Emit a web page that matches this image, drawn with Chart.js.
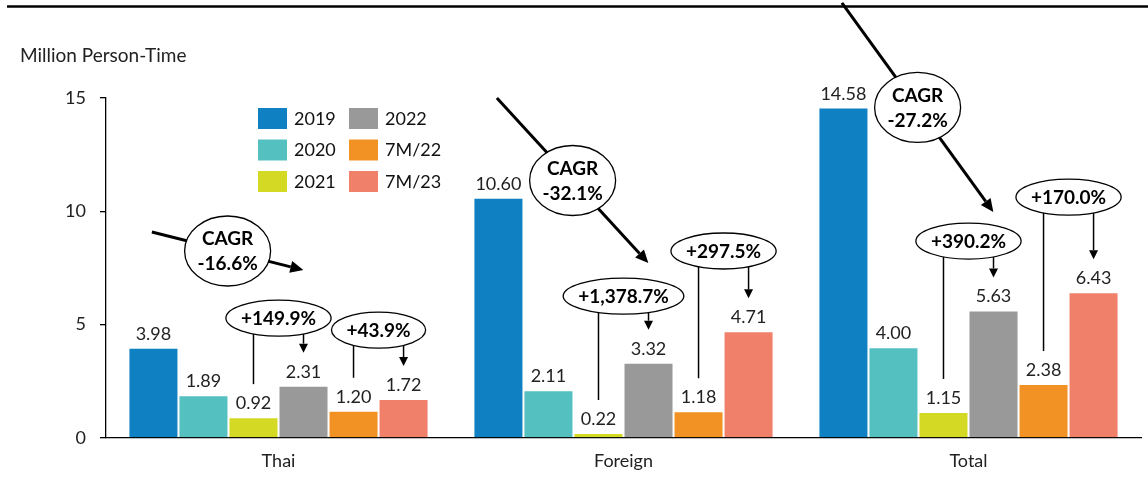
<!DOCTYPE html>
<html>
<head>
<meta charset="utf-8">
<script src="https://cdn.jsdelivr.net/npm/chart.js@4.4.0/dist/chart.umd.min.js"></script>
<style>
  html, body { margin: 0; padding: 0; background: #fff; }
</style>
</head>
<body>
<canvas id="touristChart" width="1148" height="479"></canvas>
<script>
  const categories = ['Thai', 'Foreign', 'Total'];
  const seriesNames = ['2019', '2020', '2021', '2022', '7M/22', '7M/23'];
  const values2019 = [3.98, 10.60, 14.58];
  const values2020 = [1.89, 2.11, 4.00];
  const values2021 = [0.92, 0.22, 1.15];
  const values2022 = [2.31, 3.32, 5.63];
  const values7M22 = [1.20, 1.18, 2.38];
  const values7M23 = [1.72, 4.71, 6.43];
  const cagrText = ['-16.6%', '-32.1%', '-27.2%'];
  const growth2022Text = ['+149.9%', '+1,378.7%', '+390.2%'];
  const growth7MText = ['+43.9%', '+297.5%', '+170.0%'];
  const yTicks = [0, 5, 10, 15];

  const colors = ['#0F80C1', '#55C0C0', '#D4DA24', '#999999', '#F39224', '#F1806B'];
  const FONT = 'Lato, sans-serif';

  // where the callouts sit, in axis units
  const callout2022Y = [5.29, 6.26, 8.69];
  const callout7MY = [4.76, 8.25, 10.63];
  const cagrStartY = [9.09, 15.0, 19.2];
  const cagrEndY = [7.41, 7.72, 9.97];

  function arrowLine(ctx, x1, y1, x2, y2, len, half) {
    const a = Math.atan2(y2 - y1, x2 - x1);
    const bx = x2 - len * Math.cos(a), by = y2 - len * Math.sin(a);
    ctx.beginPath();
    ctx.moveTo(x1, y1);
    ctx.lineTo(bx, by);
    ctx.stroke();
    ctx.beginPath();
    ctx.moveTo(x2, y2);
    ctx.lineTo(bx + half * Math.sin(a), by - half * Math.cos(a));
    ctx.lineTo(bx - half * Math.sin(a), by + half * Math.cos(a));
    ctx.closePath();
    ctx.fill();
  }

  function ellipse(ctx, cx, cy, rx, ry) {
    ctx.beginPath();
    ctx.ellipse(cx, cy, rx, ry, 0, 0, Math.PI * 2);
    ctx.fillStyle = '#fff';
    ctx.fill();
    ctx.stroke();
    ctx.fillStyle = '#000';
  }

  const extras = {
    id: 'extras',
    afterDraw(chart) {
      const ctx = chart.ctx;
      const x = chart.scales.x, y = chart.scales.y;
      const area = chart.chartArea;
      ctx.save();

      // top rule
      ctx.strokeStyle = '#000';
      ctx.lineWidth = 2.5;
      ctx.beginPath();
      ctx.moveTo(7, 6.5);
      ctx.lineTo(1148, 6.5);
      ctx.stroke();

      // unit label
      ctx.fillStyle = '#222';
      ctx.font = '19px ' + FONT;
      ctx.textBaseline = 'middle';
      ctx.textAlign = 'left';
      ctx.fillText('Million Person-Time', 20, 56);

      // legend, 2 columns x 3 rows
      ctx.font = '18px ' + FONT;
      seriesNames.forEach((name, i) => {
        const col = Math.floor(i / 3), row = i % 3;
        const lx = area.left + 152 + col * 91;
        const ly = area.top + 20 + row * 31.5;
        ctx.fillStyle = colors[i];
        ctx.fillRect(lx, ly - 10, 29, 21);
        ctx.fillStyle = '#111';
        ctx.fillText(name, lx + 36, ly + 1);
      });

      // value labels
      ctx.textAlign = 'center';
      ctx.textBaseline = 'alphabetic';
      ctx.font = '18px ' + FONT;
      ctx.fillStyle = '#222';
      chart.data.datasets.forEach((ds, d) => {
        chart.getDatasetMeta(d).data.forEach((bar, i) => {
          ctx.fillText(ds.data[i].toFixed(2), bar.x, bar.y - 8);
        });
      });

      ctx.strokeStyle = '#000';
      ctx.fillStyle = '#000';

      // growth callouts
      const pairs = [[2, 3, growth2022Text, callout2022Y], [4, 5, growth7MText, callout7MY]];
      ctx.font = 'bold 19px ' + FONT;
      categories.forEach((c, i) => {
        pairs.forEach(([from, to, texts, ys]) => {
          const b1 = chart.getDatasetMeta(from).data[i];
          const b2 = chart.getDatasetMeta(to).data[i];
          const cx = (b1.x + b2.x) / 2;
          const cy = y.getPixelForValue(ys[i]);
          const rx = ctx.measureText(texts[i]).width / 2 + 15, ry = 18;
          const edge = dx => cy + ry * Math.sqrt(1 - (dx / rx) * (dx / rx));
          ctx.lineWidth = 1.5;
          ctx.beginPath();
          ctx.moveTo(b1.x, edge(b1.x - cx));
          ctx.lineTo(b1.x, b1.y - 33);
          ctx.stroke();
          arrowLine(ctx, b2.x, edge(b2.x - cx), b2.x, b2.y - 33, 9, 4.5);
          ctx.lineWidth = 1.3;
          ellipse(ctx, cx, cy, rx, ry);
          ctx.textBaseline = 'middle';
          ctx.fillText(texts[i], cx, cy + 1);
        });
      });

      // CAGR arrows
      const cw = x.getPixelForValue(1) - x.getPixelForValue(0);
      categories.forEach((c, i) => {
        const cx0 = x.getPixelForValue(i);
        const x1 = cx0 - 0.367 * cw, y1 = y.getPixelForValue(cagrStartY[i]);
        const x2 = cx0 + 0.072 * cw, y2 = y.getPixelForValue(cagrEndY[i]);
        ctx.lineWidth = 3;
        arrowLine(ctx, x1, y1, x2, y2, 13, 6);
        ctx.lineWidth = 1.3;
        const mx = (x1 + x2) / 2, my = (y1 + y2) / 2;
        ellipse(ctx, mx, my, 43, 35);
        ctx.textBaseline = 'middle';
        ctx.fillText('CAGR', mx, my - 12);
        ctx.fillText(cagrText[i], mx, my + 13);
      });

      ctx.restore();
    }
  };

  const seriesValues = [values2019, values2020, values2021, values2022, values7M22, values7M23];

  new Chart(document.getElementById('touristChart').getContext('2d'), {
    type: 'bar',
    data: {
      labels: categories,
      datasets: seriesNames.map((name, i) => ({
        label: name,
        data: seriesValues[i],
        backgroundColor: colors[i],
        borderColor: '#fff',
        borderWidth: 1,
        barPercentage: 1,
        categoryPercentage: 0.87
      }))
    },
    options: {
      responsive: false,
      animation: false,
      layout: { padding: { top: 98, right: 7, left: 0, bottom: 0 } },
      plugins: {
        legend: { display: false },
        tooltip: { enabled: false }
      },
      scales: {
        x: {
          grid: { display: false },
          border: { display: true, color: '#000', width: 1.3 },
          ticks: { color: '#222', font: { family: FONT, size: 18 }, padding: 4 },
          afterFit: s => { s.height = 41; }
        },
        y: {
          min: 0,
          max: 15,
          afterBuildTicks: s => { s.ticks = yTicks.map(v => ({ value: v })); },
          grid: { display: true, drawOnChartArea: false, tickLength: 6, color: '#000', lineWidth: 1.3 },
          border: { display: true, color: '#000', width: 1.3 },
          ticks: { color: '#222', font: { family: FONT, size: 18 }, padding: 14 },
          afterFit: s => { s.width = 106; }
        }
      }
    },
    plugins: [extras]
  });
</script>
</body>
</html>
